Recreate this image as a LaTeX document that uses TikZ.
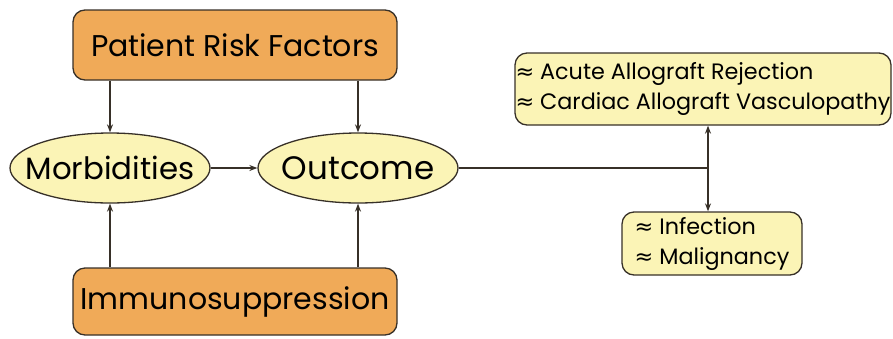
\documentclass[tikz,border=0pt]{standalone}
\usepackage{fontspec}
\setmainfont{Poppins}
\newfontfamily\symfont{DejaVu Sans}
\usetikzlibrary{shapes.geometric,arrows.meta}
\definecolor{boxorange}{RGB}{240,170,88}
\definecolor{boxyellow}{RGB}{251,244,182}
\definecolor{edgegray}{RGB}{55,48,40}
\newcommand{\apx}{{\symfont\char"2248}\ }
\tikzset{
  factor/.style={draw=edgegray, fill=boxorange, line width=1.3pt, rounded corners=12pt,
    minimum width=324pt, font=\fontsize{30}{34}\selectfont, inner sep=0pt},
  % fixed-size ellipse; its caption is placed as a centred label so the shape does not grow
  state/.style={draw=edgegray, fill=boxyellow, ellipse, line width=1.3pt,
    minimum width=200pt, minimum height=70pt, inner sep=0pt},
  effect/.style={draw=edgegray, fill=boxyellow, line width=1.3pt, rounded corners=12pt,
    align=left, inner sep=0pt, font=\fontsize{22.3}{30}\selectfont},
  arr/.style={draw=edgegray, line width=1.3pt, -{Stealth[length=8pt,width=6pt]}},
  wire/.style={draw=edgegray, line width=1.3pt}
}
\begin{document}
\begin{tikzpicture}[x=1pt,y=-1pt]
\useasboundingbox (0,0) rectangle (893,338);
\node[factor, minimum height=70pt] (prf) at (235,45) {Patient Risk Factors};
\node[factor, minimum height=67pt] (imm) at (235,301.5) {Immunosuppression};
\node[state, label={[font=\fontsize{30.8}{34}\selectfont]center:Morbidities}] (mor) at (110,168) {};
\node[state, label={[font=\fontsize{32.5}{34}\selectfont]center:Outcome}] (out) at (358,168) {};
\node[effect, minimum width=376pt, minimum height=72pt] (rej) at (703,89)
  {\apx Acute Allograft Rejection\\\apx Cardiac Allograft Vasculopathy};
\node[effect, minimum width=180pt, minimum height=63pt] (inf) at (712,243.5)
  {\apx Infection\\\apx Malignancy};
\coordinate (j) at (708,168);
\draw[arr] (prf.south -| mor) -- (mor.north);
\draw[arr] (prf.south -| out) -- (out.north);
\draw[arr] (imm.north -| mor) -- (mor.south);
\draw[arr] (imm.north -| out) -- (out.south);
\draw[arr] (mor.east) -- (out.west);
\draw[wire] (out.east) -- (j);
\draw[arr] (j) -- (j |- rej.south);
\draw[arr] (j) -- (j |- inf.north);
\end{tikzpicture}
\end{document}
